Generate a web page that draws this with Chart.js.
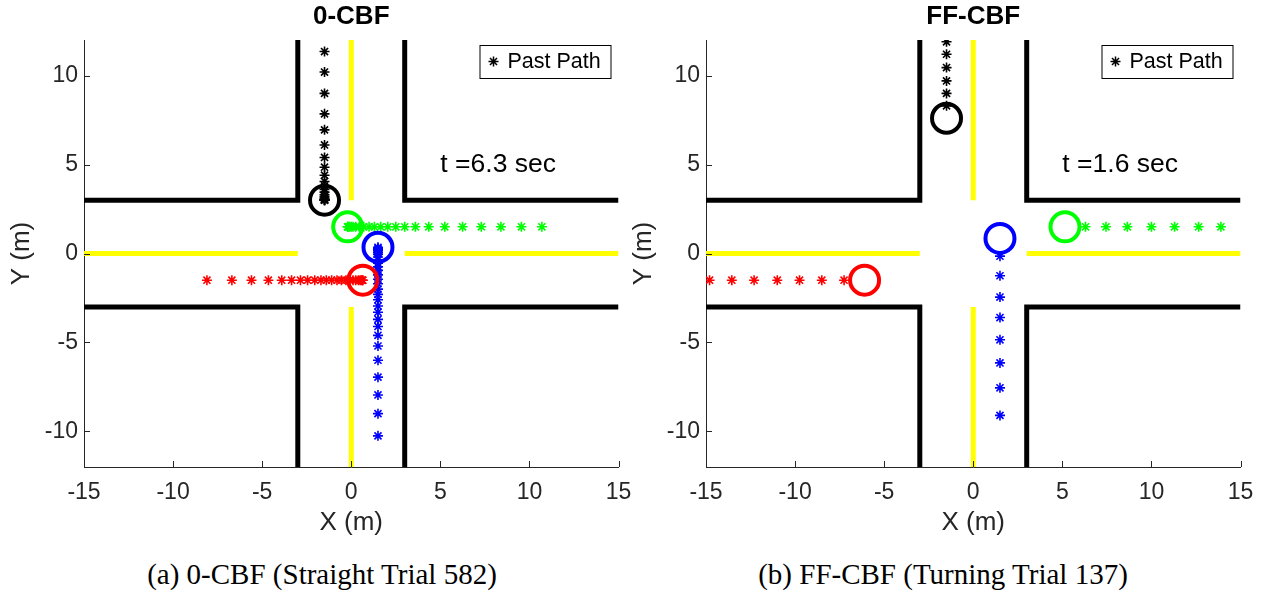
<!DOCTYPE html>
<html>
<head>
<meta charset="utf-8">
<script src="https://cdn.jsdelivr.net/npm/chart.js@4"></script>
<style>
  body { margin: 0; width: 1275px; height: 593px; background: #fff; position: relative; overflow: hidden; }
  canvas { position: absolute; top: 0; }
  #straight { left: 0; }
  #turning { left: 622px; }
  .caption {
    position: absolute; top: 560px; line-height: 29px;
    font-family: "Liberation Serif", "Times New Roman", serif; font-size: 29px; color: #000;
    transform: translateX(-50%); white-space: nowrap;
  }
</style>
</head>
<body>
<canvas id="straight" width="637" height="545"></canvas>
<canvas id="turning" width="637" height="545"></canvas>
<div class="caption" style="left:322px">(a) 0-CBF (Straight Trial 582)</div>
<div class="caption" style="left:943px">(b) FF-CBF (Turning Trial 137)</div>
<script>
//// axes
const xLimit = 15;
const yLimit = 12;
const xTicks = [-15, -10, -5, 0, 5, 10, 15];
const yTicks = [-10, -5, 0, 5, 10];

//// road (m)
const roadEdge = 3;
const laneOffset = 1.5;

//// 0-CBF, straight trial 582 at t = 6.3 s (past samples, oldest first)
const straightBlackY = [11.35, 10.2, 9.0, 7.85, 6.95, 6.1, 5.4, 4.85, 4.4, 4.05, 3.8, 3.6, 3.45, 3.3, 3.2, 3.12, 3.06, 3.02, 3.0, 3.0, 3.0];
const straightGreenX = [10.7, 9.55, 8.4, 7.3, 6.25, 5.25, 4.35, 3.6, 3.0, 2.5, 2.05, 1.65, 1.3, 1.0, 0.7, 0.45, 0.25, 0.1, 0.0, -0.1, -0.15, -0.2, -0.2];
const straightRedX = [-8.1, -6.7, -5.6, -4.65, -3.9, -3.35, -2.85, -2.45, -2.05, -1.7, -1.4, -1.1, -0.8, -0.55, -0.3, -0.1, 0.1, 0.25, 0.4, 0.5, 0.58, 0.63, 0.65];
const straightBlueY = [-10.25, -9.0, -7.95, -6.95, -6.0, -5.2, -4.6, -4.1, -3.7, -3.3, -2.95, -2.6, -2.3, -2.0, -1.7, -1.45, -1.2, -0.95, -0.75, -0.55, -0.35, -0.2, -0.05, 0.05, 0.15, 0.22, 0.3, 0.35];
// current positions: black, green, red, blue
const straightNowX = [-1.5, -0.2, 0.65, 1.5];
const straightNowY = [3.0, 1.5, -1.5, 0.35];

//// FF-CBF, turning trial 137 at t = 1.6 s
const turningBlackY = [11.9, 11.2, 10.45, 9.7, 9.0, 8.3];
const turningGreenX = [13.9, 12.65, 11.3, 10.0, 8.65, 7.45, 6.3];
const turningRedX = [-14.8, -13.55, -12.3, -11.0, -9.75, -8.5, -7.25];
const turningBlueY = [-9.1, -7.55, -6.15, -4.85, -3.6, -2.45, -1.25, -0.15];
const turningNowX = [-1.5, 5.15, -6.1, 1.5];
const turningNowY = [7.6, 1.5, -1.5, 0.85];

const vehicleColors = ['#000000', '#00ff00', '#ff0000', '#0000ff'];
const axisColor = '#262626';
const sansFont = '"Liberation Sans", Arial, Helvetica, sans-serif';

//// helpers
function roadDatasets() {
  const e = roadEdge;
  const curbs = [
    [[-xLimit, e], [-e, e], [-e, yLimit]],
    [[xLimit, e], [e, e], [e, yLimit]],
    [[-xLimit, -e], [-e, -e], [-e, -yLimit]],
    [[xLimit, -e], [e, -e], [e, -yLimit]]
  ];
  const centreLines = [
    [[0, e], [0, yLimit]],
    [[0, -e], [0, -yLimit]],
    [[-xLimit, 0], [-e, 0]],
    [[e, 0], [xLimit, 0]]
  ];
  const toLine = (pts, color) => ({
    data: pts.map(p => ({ x: p[0], y: p[1] })),
    showLine: true,
    borderColor: color,
    borderWidth: 5,
    borderJoinStyle: 'miter',
    borderCapStyle: 'butt',
    pointRadius: 0,
    order: 3
  });
  return centreLines.map(p => toLine(p, '#ffff00')).concat(curbs.map(p => toLine(p, '#000000')));
}

function trailPoints(blackY, greenX, redX, blueY) {
  return [
    blackY.map(y => ({ x: -laneOffset, y })),
    greenX.map(x => ({ x, y: laneOffset })),
    redX.map(x => ({ x, y: -laneOffset })),
    blueY.map(y => ({ x: laneOffset, y }))
  ];
}

function drawStar(ctx, cx, cy, r) {
  const d = r * Math.SQRT1_2;
  ctx.beginPath();
  ctx.moveTo(cx - r, cy); ctx.lineTo(cx + r, cy);
  ctx.moveTo(cx, cy - r); ctx.lineTo(cx, cy + r);
  ctx.moveTo(cx - d, cy - d); ctx.lineTo(cx + d, cy + d);
  ctx.moveTo(cx - d, cy + d); ctx.lineTo(cx + d, cy - d);
  ctx.stroke();
}

// title, axis titles, inward ticks, time stamp and legend box
const overlay = {
  id: 'overlay',
  afterDraw(chart, args, opts) {
    const { ctx, chartArea: area, scales: { x, y } } = chart;
    ctx.save();

    ctx.strokeStyle = axisColor;
    ctx.lineWidth = 1;
    ctx.beginPath();
    xTicks.forEach(v => {
      const px = Math.round(x.getPixelForValue(v)) + 0.5;
      ctx.moveTo(px, area.bottom); ctx.lineTo(px, area.bottom - 6);
    });
    yTicks.forEach(v => {
      const py = Math.round(y.getPixelForValue(v)) + 0.5;
      ctx.moveTo(area.left, py); ctx.lineTo(area.left + 6, py);
    });
    ctx.stroke();

    const midX = (area.left + area.right) / 2;
    ctx.fillStyle = '#000';
    ctx.textAlign = 'center';
    ctx.textBaseline = 'middle';
    ctx.font = 'bold 26px ' + sansFont;
    ctx.fillText(opts.title, midX, 17);

    ctx.fillStyle = axisColor;
    ctx.font = '26px ' + sansFont;
    ctx.fillText('X (m)', midX, 523);
    ctx.save();
    ctx.translate(22, (area.top + area.bottom) / 2);
    ctx.rotate(-Math.PI / 2);
    ctx.fillText('Y (m)', 0, 0);
    ctx.restore();

    ctx.fillStyle = '#000';
    ctx.textAlign = 'left';
    ctx.font = '26.5px ' + sansFont;
    ctx.fillText(opts.stamp, x.getPixelForValue(5), y.getPixelForValue(5));

    const boxW = 131, boxH = 33;
    const bx = area.right - 8 - boxW, by = area.top + 5;
    ctx.fillStyle = '#fff';
    ctx.fillRect(bx, by, boxW, boxH);
    ctx.strokeStyle = '#000';
    ctx.lineWidth = 1;
    ctx.strokeRect(bx + 0.5, by + 0.5, boxW, boxH);
    ctx.lineWidth = 1.5;
    drawStar(ctx, bx + 14, by + boxH / 2, 5);
    ctx.fillStyle = '#000';
    ctx.font = '21.5px ' + sansFont;
    ctx.fillText('Past Path', bx + 28, by + boxH / 2 + 1);

    ctx.restore();
  }
};

function buildChart(canvasId, title, stamp, trails, nowX, nowY) {
  const datasets = roadDatasets();
  trails.forEach((pts, i) => {
    datasets.push({
      data: pts,
      pointStyle: 'star',
      pointRadius: 5,
      borderWidth: 1.6,
      borderColor: vehicleColors[i],
      backgroundColor: vehicleColors[i],
      order: 2
    });
  });
  nowX.forEach((px, i) => {
    datasets.push({
      data: [{ x: px, y: nowY[i] }],
      pointStyle: 'circle',
      pointRadius: 14.5,
      borderWidth: 4,
      borderColor: vehicleColors[i],
      backgroundColor: 'rgba(0,0,0,0)',
      order: 1,
      clip: false
    });
  });

  return new Chart(document.getElementById(canvasId), {
    type: 'scatter',
    data: { datasets },
    options: {
      responsive: false,
      animation: false,
      devicePixelRatio: 1,
      layout: { padding: { top: 40, right: 17, bottom: 0, left: 0 } },
      plugins: {
        legend: { display: false },
        tooltip: { enabled: false },
        overlay: { title, stamp }
      },
      scales: {
        x: {
          type: 'linear',
          min: -xLimit,
          max: xLimit,
          afterBuildTicks: s => { s.ticks = xTicks.map(v => ({ value: v })); },
          afterFit: s => { s.height = 78; s.paddingLeft = 0; s.paddingRight = 0; },
          grid: { display: true, drawOnChartArea: false, drawTicks: false },
          border: { display: true, color: axisColor, width: 1 },
          ticks: { color: axisColor, padding: 12, font: { family: sansFont, size: 23 } }
        },
        y: {
          type: 'linear',
          min: -yLimit,
          max: yLimit,
          afterBuildTicks: s => { s.ticks = yTicks.map(v => ({ value: v })); },
          afterFit: s => { s.width = 84; s.paddingTop = 0; s.paddingBottom = 0; },
          grid: { display: true, drawOnChartArea: false, drawTicks: false },
          border: { display: true, color: axisColor, width: 1 },
          ticks: { color: axisColor, padding: 6, font: { family: sansFont, size: 23 } }
        }
      }
    },
    plugins: [overlay]
  });
}

buildChart('straight', '0-CBF', 't =6.3 sec',
  trailPoints(straightBlackY, straightGreenX, straightRedX, straightBlueY), straightNowX, straightNowY);
buildChart('turning', 'FF-CBF', 't =1.6 sec',
  trailPoints(turningBlackY, turningGreenX, turningRedX, turningBlueY), turningNowX, turningNowY);
</script>
</body>
</html>
